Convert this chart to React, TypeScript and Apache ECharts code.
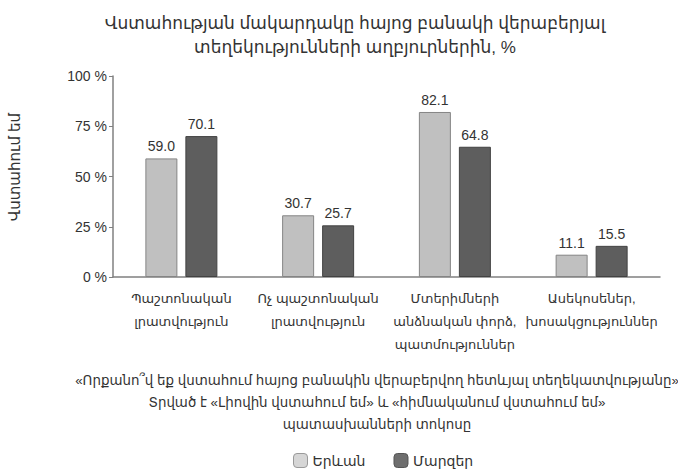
import React, { useEffect, useRef } from "react";
import * as echarts from "echarts";

const categories = [
  "Պաշտոնական\nլրատվություն",
  "Ոչ պաշտոնական\nլրատվություն",
  "Մտերիմների\nանձնական փորձ,\nպատմություններ",
  "Ասեկոսեներ,\nխոսակցություններ",
];
const yerevan = [59.0, 30.7, 82.1, 11.1];
const marzer = [70.1, 25.7, 64.8, 15.5];
const seriesNames = ["Երևան", "Մարզեր"];
const yTicks = [0, 25, 50, 75, 100];
const titleText = "Վստահության մակարդակը հայոց բանակի վերաբերյալ\nտեղեկությունների աղբյուրներին, %";
const yAxisTitle = "Վստահում եմ";
const footnote = [
  "«Որքանո՞վ եք վստահում հայոց բանակին վերաբերվող հետևյալ տեղեկատվությանը»",
  "Տրված է «Լիովին վստահում եմ» և «հիմնականում վստահում եմ»",
  "պատասխանների տոկոսը",
];

const FONT = "'Liberation Sans', 'DejaVu Sans', sans-serif";

export default function App() {
  const ref = useRef<HTMLDivElement>(null);
  useEffect(() => {
    if (!ref.current) return;
    const chart = echarts.init(ref.current, null, { renderer: "svg" });
    chart.setOption({
      animation: false,
      textStyle: { fontFamily: FONT },
      title: {
        text: titleText,
        left: 350,
        top: 6,
        textAlign: "center",
        textStyle: { fontSize: 17, fontWeight: "normal", color: "#333", lineHeight: 24, fontFamily: FONT },
      },
      legend: {
        bottom: 1,
        left: 288,
        itemWidth: 14,
        itemHeight: 14,
        itemGap: 28,
        textStyle: { fontSize: 14, color: "#333", fontFamily: FONT },
        data: [
          { name: seriesNames[0], itemStyle: { color: "#d6d6d6", borderColor: "#9a9a9a", borderWidth: 1 } },
          { name: seriesNames[1], itemStyle: { color: "#6e6e6e", borderColor: "#555", borderWidth: 1 } },
        ],
      },
      grid: { left: 113, top: 76, right: 18, bottom: 197, containLabel: false },
      xAxis: {
        type: "category",
        data: categories,
        axisLine: { lineStyle: { color: "#808080", width: 1.5 } },
        axisTick: { show: false },
        axisLabel: { fontSize: 13, color: "#333", lineHeight: 23, margin: 10, interval: 0, fontFamily: FONT },
      },
      yAxis: {
        type: "value",
        min: 0,
        max: 100,
        interval: 25,
        splitLine: { show: false },
        axisLine: { show: true, lineStyle: { color: "#808080", width: 1.5 } },
        axisTick: { show: true, length: 4, lineStyle: { color: "#808080" } },
        axisLabel: {
          fontSize: 14,
          color: "#333",
          margin: 6,
          fontFamily: FONT,
          formatter: (v: number) => (yTicks.includes(v) ? v + " %" : ""),
        },
      },
      graphic: [
        {
          type: "text",
          x: 14,
          y: 167,
          rotation: Math.PI / 2,
          style: { text: yAxisTitle, fontSize: 15, fill: "#333", align: "center", verticalAlign: "middle", fontFamily: FONT },
        },
        ...footnote.map((t, i) => ({
          type: "text",
          x: 377,
          y: 380 + i * 22,
          style: { text: t, fontSize: 13.4, fill: "#333", align: "center", verticalAlign: "middle", fontFamily: FONT },
        })),
      ],
      series: [
        {
          name: seriesNames[0],
          type: "bar",
          data: yerevan,
          barWidth: 32,
          barGap: "25%",
          itemStyle: { color: "#c0c0c0", borderColor: "#858585", borderWidth: 1 },
          label: { show: true, position: "top", distance: 5, fontSize: 14, color: "#333", fontFamily: FONT, formatter: (p: any) => p.value.toFixed(1) },
        },
        {
          name: seriesNames[1],
          type: "bar",
          data: marzer,
          barWidth: 32,
          barGap: "25%",
          itemStyle: { color: "#5e5e5e", borderColor: "#424242", borderWidth: 1 },
          label: { show: true, position: "top", distance: 5, fontSize: 14, color: "#333", fontFamily: FONT, formatter: (p: any) => p.value.toFixed(1) },
        },
      ],
    });
    return () => chart.dispose();
  }, []);
  return <div ref={ref} style={{ width: 678, height: 474, position: "absolute", left: 0, top: 0 }} />;
}
